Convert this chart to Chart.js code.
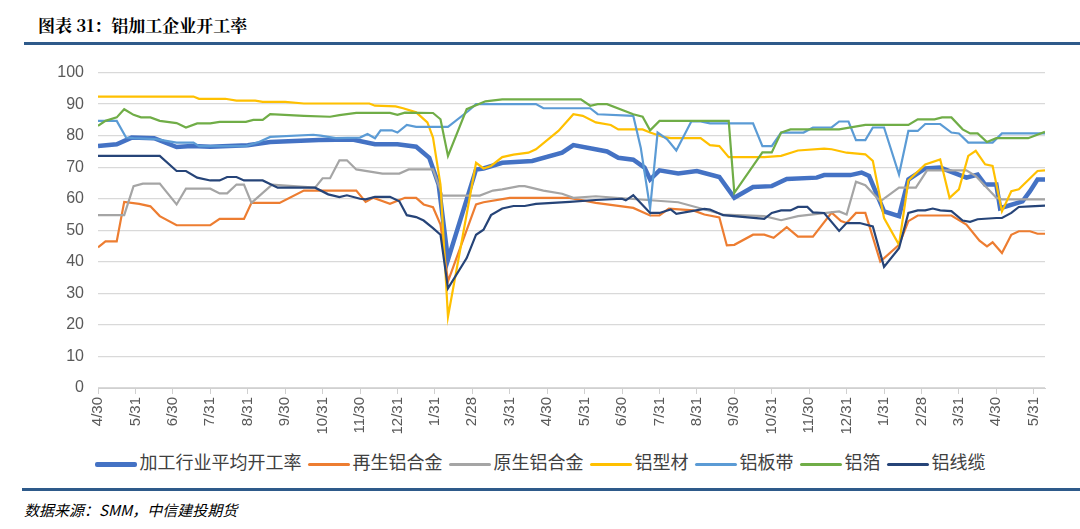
<!DOCTYPE html>
<html><head><meta charset="utf-8">
<script src="https://cdn.jsdelivr.net/npm/chart.js@4"></script>
<style>
body{margin:0;width:1080px;height:529px;background:#fff;position:relative;overflow:hidden;font-family:"Noto Sans CJK SC","Noto Sans",sans-serif}
#title{position:absolute;left:38px;top:12px;font-size:17px;font-weight:bold;color:#000;font-family:"Noto Serif CJK SC","Noto Sans CJK SC",serif}
#l1{position:absolute;left:24px;top:42px;width:1056px;height:3px;background:#2e5a8a}
#l2{position:absolute;left:22px;top:488px;width:1058px;height:3px;background:#2e5a8a}
#src{position:absolute;left:24px;top:499px;font-size:15px;font-style:italic;color:#000}
#wrap{position:absolute;left:0;top:49px;width:1080px;height:398px}
#legend{position:absolute;left:0;width:1080px;top:448px;text-align:center;font-size:18px;color:#404040;white-space:nowrap}
#legend span{display:inline-block;margin:0 3px}
#legend i{display:inline-block;width:42px;vertical-align:middle;margin-right:3px;border-radius:2px}
</style></head><body>
<div id="title">图表 31：铝加工企业开工率</div>
<div id="l1"></div>
<div id="wrap"><canvas id="c"></canvas></div>
<div id="legend"></div>
<div id="l2"></div>
<div id="src">数据来源：SMM，中信建投期货</div>
<script>
const tickLabels=["4/30","5/31","6/30","7/31","8/31","9/30","10/31","11/30","12/31","1/31","2/28","3/31","4/30","5/31","6/30","7/31","8/31","9/30","10/31","11/30","12/31","1/31","2/28","3/31","4/30","5/31"];
const seriesNames=["加工行业平均开工率","再生铝合金","原生铝合金","铝型材","铝板带","铝箔","铝线缆"];
const seriesColors=["#4472C4","#ED7D31","#A5A5A5","#FFC000","#5B9BD5","#70AD47","#264478"];
const avg=[[0,76.7],[0.5,77.3],[0.9,79.4],[1.5,79.2],[2.1,76.4],[2.5,76.7],[3,76.5],[4,77],[4.6,78],[5.9,78.6],[6.8,78.8],[7.4,77.3],[8,77.3],[8.5,76.5],[8.85,73],[9.1,64.5],[9.35,40.7],[10.1,69.3],[10.3,69.6],[10.8,71.4],[11.6,72],[12.4,74.6],[12.7,77],[13.6,75],[13.9,73],[14.3,72.4],[14.6,69.9],[14.75,66.1],[15,69],[15.5,68],[16,68.8],[16.6,66.9],[17,60.3],[17.5,63.7],[18,64],[18.4,66.3],[19.2,66.7],[19.4,67.5],[20.1,67.5],[20.4,68.3],[20.6,67.2],[21,56],[21.4,54.5],[21.65,66.1],[22.1,69.6],[22.5,69.9],[23.2,66.7],[23.5,67.7],[23.7,64.5],[24,64.5],[24.1,57],[24.7,59.2],[24.9,62.4],[25.1,66.1],[25.3,66.1]];
const recycled=[[0,44.6],[0.2,46.5],[0.5,46.5],[0.7,59],[1.1,58.4],[1.4,57.6],[1.65,54.5],[2.1,51.6],[3,51.6],[3.25,53.6],[3.9,53.6],[4.1,58.7],[4.85,58.7],[5.5,62.6],[6.9,62.6],[7.15,59],[7.35,60.3],[7.8,58.4],[8.2,60.3],[8.5,60.3],[8.7,58.2],[8.95,57.3],[9.15,51.8],[9.35,33.8],[10.1,58.2],[10.3,58.9],[11,60.3],[12.6,60.3],[13.3,58.7],[14.3,57.1],[14.75,54.7],[15,54.7],[15.25,56.9],[15.9,56.3],[16.2,55],[16.6,54.1],[16.8,45.2],[17,45.4],[17.5,48.6],[17.8,48.6],[18.05,47.6],[18.4,51],[18.7,48],[19.1,48],[19.6,55.6],[19.85,52.9],[20,52.3],[20.25,55.5],[20.5,55.5],[20.9,40.1],[21.4,45.4],[21.65,52.9],[21.9,54.7],[22.8,54.7],[23.2,51.8],[23.55,46.7],[23.75,44.9],[23.9,46.2],[24.15,42.8],[24.4,48.6],[24.6,49.7],[24.9,49.7],[25.1,48.9],[25.3,48.9]];
const primary=[[0,54.8],[0.7,54.8],[0.95,64],[1.2,64.8],[1.65,64.8],[2.1,58.2],[2.35,63.2],[3,63.2],[3.25,61.7],[3.45,61.7],[3.7,64.5],[3.9,64.5],[4.1,58.7],[4.65,64.5],[5.8,63.5],[6,66.5],[6.2,66.5],[6.45,72.2],[6.65,72.2],[6.9,69.3],[7.6,68],[8.05,68],[8.3,69.3],[8.95,69.3],[9.2,61],[10.2,61],[10.55,62.6],[10.8,63],[11.25,64],[11.4,64],[11.9,62.6],[12.4,61.6],[12.7,60.3],[13.3,60.8],[14.2,60],[15.5,58.9],[16.7,55],[17.8,54.5],[18.25,53.2],[18.7,54.5],[19.8,56],[20,55],[20.25,65.4],[20.5,64.3],[20.9,59.2],[21.4,63.5],[21.85,63.5],[22.15,69],[23.2,69],[23.45,67.2],[24,60.3],[24.15,59.8],[25.3,59.8]];
const profile=[[0,92.4],[2.55,92.4],[2.7,91.7],[3.4,91.7],[3.7,91.1],[4.2,91.1],[4.4,90.7],[5,90.7],[5.5,90.2],[7.25,90.2],[7.4,89.5],[7.95,89.3],[8.15,88.7],[8.5,87.4],[8.8,84.2],[8.95,79.4],[9.15,64.5],[9.35,22.6],[10.1,71.4],[10.3,69.6],[10.5,70.4],[10.8,73.2],[11.1,74],[11.5,74.6],[11.7,75.7],[12.3,81.5],[12.7,86.8],[12.95,86.3],[13.3,84.2],[13.7,83.4],[13.9,82],[14.55,82],[14.75,81],[15.1,79.6],[15.3,79.2],[16.1,79.2],[16.35,77],[16.6,76.7],[16.85,73.2],[17.8,73.2],[18.25,73.6],[18.7,75.3],[19.4,75.9],[19.6,75.7],[20,74.6],[20.5,74.1],[20.7,72],[21,53.9],[21.4,45.4],[21.65,65.8],[22.1,70.9],[22.5,72.5],[22.75,60.3],[23,63],[23.25,73.6],[23.45,75.2],[23.7,70.9],[23.9,70.4],[24.15,56],[24.4,62.4],[24.6,63],[25.1,68.8],[25.3,69]];
const strip=[[0,84.7],[0.5,84.7],[0.75,79.4],[0.95,79.2],[1.55,78.9],[2.1,77.8],[2.55,77.8],[2.7,76.7],[3.95,76.7],[4.3,78],[4.6,79.6],[5.75,80.3],[5.95,80],[6.35,79.2],[7,79.4],[7.2,80.5],[7.4,79.2],[7.55,81.7],[7.85,81.7],[8,81],[8.25,83.4],[8.5,82.8],[9.35,82.8],[9.9,87.9],[10.1,90],[11.7,90],[11.9,88.7],[13.15,88.7],[13.35,86.8],[14.3,86.3],[14.5,76.2],[14.75,56.9],[14.95,81],[15.2,78.9],[15.45,75.3],[15.85,84.5],[16.1,84.5],[16.35,83.9],[17.5,83.9],[17.75,76.7],[18,76.7],[18.25,81],[18.85,81],[19.1,82.6],[19.6,82.6],[19.8,84.5],[20.05,84.5],[20.25,78.6],[20.5,78.6],[20.7,82.6],[21,82.6],[21.4,67.7],[21.65,81.5],[21.9,81.5],[22.1,83.7],[22.5,83.7],[22.8,81],[23,80.7],[23.25,77.8],[23.9,77.8],[24.15,80.7],[25.3,80.7]];
const foil=[[0,83.1],[0.2,84.7],[0.5,85.8],[0.7,88.4],[0.95,86.6],[1.15,85.8],[1.4,85.8],[1.65,84.7],[2.1,84],[2.35,82.6],[2.65,83.9],[3,83.9],[3.25,84.4],[3.95,84.4],[4.15,85],[4.4,85],[4.6,86.8],[5.5,86.3],[6.2,86],[6.45,86.5],[6.9,87.2],[7.8,87.2],[8,86.6],[8.2,87.3],[8.95,87.2],[9.15,85.2],[9.35,73.6],[9.85,88.4],[10.35,90.9],[10.8,91.5],[12.9,91.5],[13.15,89.5],[13.35,90],[13.6,90],[14.3,86.8],[14.55,86],[14.75,81.7],[15,84.7],[16.85,84.7],[17,61.9],[17.75,74.7],[18,74.7],[18.25,81],[18.5,82],[19.8,82],[20.5,83.4],[21.65,83.4],[21.9,85.2],[22.35,85.2],[22.55,85.8],[22.8,85.8],[23.1,82],[23.3,80.7],[23.5,80.7],[23.75,78],[24,79.2],[24.85,79.2],[25.3,81.2]];
const cable=[[0,73.6],[1.65,73.6],[2.1,68.8],[2.35,68.8],[2.65,66.7],[3,65.8],[3.25,65.8],[3.45,66.9],[3.7,66.9],[3.9,65.8],[4.4,65.8],[4.8,63.5],[5.8,63.5],[6.15,61.4],[6.45,60.5],[6.65,61.1],[7,60],[7.15,59.8],[7.4,60.6],[7.8,60.6],[8.05,59.2],[8.25,54.8],[8.5,54.2],[8.7,53.1],[8.95,50.7],[9.15,48.6],[9.35,31.6],[9.85,41.2],[10.1,48.6],[10.3,50.2],[10.5,54.8],[10.8,56.9],[11.1,57.7],[11.4,57.7],[11.7,58.4],[12.6,59],[13.3,59.6],[14,60],[14.1,59.5],[14.3,61.1],[14.75,55.5],[15,55.5],[15.3,56.6],[15.45,55.2],[16.2,56.8],[16.35,56.6],[16.7,54.8],[17.8,53.6],[18,55.5],[18.25,56.3],[18.5,56.3],[18.7,57.4],[18.95,57.4],[19.1,55.7],[19.4,55.5],[19.8,49.8],[20,52.3],[20.35,52.3],[20.7,51.2],[21,38.4],[21.4,44.3],[21.65,55.5],[21.9,56.3],[22.1,56.3],[22.3,56.9],[22.5,56.3],[22.8,56.1],[23.1,53.1],[23.3,52.7],[23.5,53.5],[24,53.9],[24.15,53.9],[24.4,55.5],[24.6,57.4],[24.9,57.6],[25.3,57.8]];
const allData=[avg,recycled,primary,profile,strip,foil,cable];
const widths=[4.5,2.2,2.2,2.2,2.2,2.2,2.2];
const order=[6,5,4,3,2,1,0];
const datasets=allData.map((d,i)=>({label:seriesNames[i],data:d.map(p=>({x:p[0],y:p[1]})),borderColor:seriesColors[i],backgroundColor:seriesColors[i],borderWidth:widths[i],pointRadius:0,tension:0,order:order[i]}));
const lg=document.getElementById('legend');
seriesNames.forEach((n,i)=>{const s=document.createElement('span');s.innerHTML=`<i style="height:${i==0?5:3}px;background:${seriesColors[i]}"></i>${n}`;lg.appendChild(s);});
new Chart(document.getElementById('c'),{type:'line',data:{datasets},
options:{responsive:true,maintainAspectRatio:false,animation:false,
layout:{padding:{top:17,right:35,left:0,bottom:0}},
plugins:{legend:{display:false},tooltip:{enabled:false}},
scales:{
x:{type:'linear',min:0,max:25.3,afterBuildTicks:a=>{a.ticks=tickLabels.map((_,i)=>({value:i}));},
afterFit:a=>{a.height=59},
ticks:{autoSkip:false,maxRotation:90,minRotation:90,color:'#595959',font:{size:15,family:'Liberation Sans'},callback:v=>tickLabels[v]},
grid:{drawOnChartArea:false,drawTicks:true,tickLength:6,color:'#d0d0d0'},border:{color:'#d0d0d0'}},
y:{min:0,max:100,afterFit:a=>{a.width=98},
ticks:{stepSize:10,color:'#595959',padding:14,font:{size:16,family:'Liberation Sans'}},
grid:{color:'#d9d9d9',lineWidth:1.3,drawTicks:false},border:{display:false}}}}});
</script></body></html>
